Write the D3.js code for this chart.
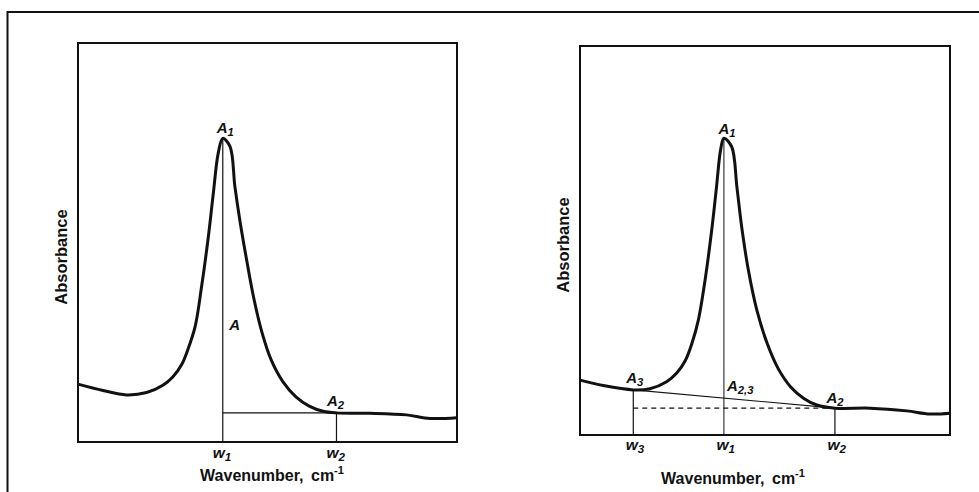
<!DOCTYPE html>
<html>
<head>
<meta charset="utf-8">
<script src="https://cdn.jsdelivr.net/npm/d3@7"></script>
<style>
  body { margin: 0; background: #fff; }
  svg text { font-family: "Liberation Sans", Arial, sans-serif; font-weight: bold; fill: #111; }
  .lab { font-style: italic; }
</style>
</head>
<body>
<div id="chart"></div>
<script>
// ------------------------------------------------------------
// Two schematic IR absorbance bands: single-point baseline (left)
// and two-point baseline (right).
// wavenumber in relative units 0-100, absorbance 0-1.
// ------------------------------------------------------------

// left panel spectrum
const leftWave = [0, 6.6, 12.8, 18.1, 22.5, 25.0, 27.4, 29.0, 30.9, 32.6, 34.4, 35.7, 37.0, 38.2,
  40.1, 41.4, 42.7, 44.5, 46.3, 48.5, 51.0, 54.0, 57.5, 61.0, 64.7, 68.2, 77.0, 86.7, 92.9, 100];
const leftAbs = [0.145, 0.129, 0.118, 0.124, 0.143, 0.163, 0.195, 0.232, 0.289, 0.389, 0.515, 0.623, 0.724, 0.761,
  0.741, 0.640, 0.556, 0.456, 0.364, 0.276, 0.205, 0.152, 0.113, 0.090, 0.077, 0.073, 0.072, 0.068, 0.059, 0.061];

// right panel spectrum
const rightWave = [0, 6.3, 14.4, 18.9, 23.4, 26.2, 28.5, 30.3, 32.0, 33.8, 35.6, 36.9, 38.0, 38.9,
  41.0, 42.4, 43.7, 45.5, 47.8, 50.6, 53.6, 57.0, 60.5, 64.0, 68.9, 78.4, 88.3, 94.6, 100];
const rightAbs = [0.141, 0.127, 0.116, 0.119, 0.137, 0.160, 0.192, 0.237, 0.296, 0.398, 0.527, 0.638, 0.733, 0.763,
  0.741, 0.638, 0.535, 0.424, 0.321, 0.235, 0.170, 0.123, 0.094, 0.077, 0.069, 0.069, 0.062, 0.054, 0.056];

// marked wavenumbers (w1, w2 / w3, w1, w2) and their subscripts
const leftTickPos = [38.2, 68.2];
const leftTickSub = ["1", "2"];
const rightTickPos = [14.4, 38.9, 68.9];
const rightTickSub = ["3", "1", "2"];

// absorbance readings at the marks
const leftPeak = 0.761, leftBase = 0.073;
const rightPeak = 0.763, rightA2 = 0.069, rightA3 = 0.116;

const W = 979, H = 492;
const svg = d3.select("#chart").append("svg")
  .attr("width", W).attr("height", H);

// outer frame (left + top only)
svg.append("path")
  .attr("d", `M7.5,${H} V12 H${W}`)
  .attr("fill", "none").attr("stroke", "#111").attr("stroke-width", 2);

// helper: italic label with a subscript
function subText(g, x, y, main, sub, size) {
  const t = g.append("text").attr("class", "lab")
    .attr("x", x).attr("y", y)
    .attr("font-size", size);
  t.append("tspan").text(main);
  t.append("tspan").attr("font-size", size * 0.75).attr("dy", 3).text(sub);
  return t;
}

function panel(box, waves, abs) {
  const x = d3.scaleLinear().domain([0, 100]).range([box.left, box.right]);
  const y = d3.scaleLinear().domain([0, 1]).range([box.bottom, box.top]);
  const g = svg.append("g");

  g.append("rect")
    .attr("x", x(0)).attr("y", y(1))
    .attr("width", x(100) - x(0)).attr("height", y(0) - y(1))
    .attr("fill", "none").attr("stroke", "#111").attr("stroke-width", 2);

  const pts = waves.map((w, i) => [w, abs[i]]);
  const line = d3.line()
    .x(d => x(d[0])).y(d => y(d[1]))
    .curve(d3.curveCatmullRom.alpha(0.5));

  // axis labels
  g.append("text")
    .attr("transform", `translate(${box.ylabX},${box.ylabY}) rotate(-90)`)
    .attr("text-anchor", "middle")
    .attr("font-size", 16.5)
    .text("Absorbance");

  const xl = g.append("text")
    .attr("x", box.xlabX).attr("y", box.xlabY)
    .attr("text-anchor", "middle")
    .attr("font-size", 16)
    .attr("word-spacing", 3);
  xl.append("tspan").text("Wavenumber, cm");
  xl.append("tspan").attr("font-size", 11).attr("dy", -7).text("-1");

  return { g, x, y, line, pts };
}

// ---------------- left panel ----------------
{
  const p = panel({ left: 78, right: 457, top: 43, bottom: 442,
    ylabX: 67, ylabY: 257, xlabX: 272, xlabY: 481 }, leftWave, leftAbs);
  const { g, x, y } = p;
  const w1 = leftTickPos[0], w2 = leftTickPos[1];

  // guide lines
  g.append("line").attr("x1", x(w1)).attr("x2", x(w1)).attr("y1", y(leftPeak)).attr("y2", y(0))
    .attr("stroke", "#111").attr("stroke-width", 1.2);
  g.append("line").attr("x1", x(w1)).attr("x2", x(w2)).attr("y1", y(leftBase)).attr("y2", y(leftBase))
    .attr("stroke", "#111").attr("stroke-width", 1.2);
  g.append("line").attr("x1", x(w2)).attr("x2", x(w2)).attr("y1", y(leftBase)).attr("y2", y(0))
    .attr("stroke", "#111").attr("stroke-width", 1.2);

  g.append("path").datum(p.pts).attr("d", p.line)
    .attr("fill", "none").attr("stroke", "#111").attr("stroke-width", 3)
    .attr("stroke-linejoin", "round");

  leftTickPos.forEach((w, i) => subText(g, x(w) - 10, y(0) + 15.5, "w", leftTickSub[i], 15.5));

  subText(g, x(w1) - 6, y(leftPeak) - 5, "A", "1", 15);
  g.append("text").attr("class", "lab").attr("font-size", 15)
    .attr("x", x(w1) + 6.5).attr("y", y(0.28)).text("A");
  subText(g, x(w2) - 9.5, y(leftBase) - 6.5, "A", "2", 15);
}

// ---------------- right panel ----------------
{
  const p = panel({ left: 580, right: 950, top: 46, bottom: 435,
    ylabX: 569, ylabY: 245, xlabX: 733, xlabY: 484 }, rightWave, rightAbs);
  const { g, x, y } = p;
  const w3 = rightTickPos[0], w1 = rightTickPos[1], w2 = rightTickPos[2];
  // baseline value under the peak, on the A3-A2 line
  const a23 = rightA3 + (rightA2 - rightA3) * (w1 - w3) / (w2 - w3);

  g.append("line").attr("x1", x(w1)).attr("x2", x(w1)).attr("y1", y(rightPeak)).attr("y2", y(0))
    .attr("stroke", "#111").attr("stroke-width", 1);
  g.append("line").attr("x1", x(w3)).attr("x2", x(w3)).attr("y1", y(rightA3)).attr("y2", y(0))
    .attr("stroke", "#111").attr("stroke-width", 1.2);
  g.append("line").attr("x1", x(w2)).attr("x2", x(w2)).attr("y1", y(rightA2)).attr("y2", y(0))
    .attr("stroke", "#111").attr("stroke-width", 1.2);
  g.append("line").attr("x1", x(w3)).attr("x2", x(w2)).attr("y1", y(rightA3)).attr("y2", y(rightA2))
    .attr("stroke", "#111").attr("stroke-width", 1.1);
  g.append("line").attr("x1", x(w3)).attr("x2", x(w2)).attr("y1", y(rightA2)).attr("y2", y(rightA2))
    .attr("stroke", "#111").attr("stroke-width", 1.1).attr("stroke-dasharray", "5,4");

  g.append("path").datum(p.pts).attr("d", p.line)
    .attr("fill", "none").attr("stroke", "#111").attr("stroke-width", 3)
    .attr("stroke-linejoin", "round");

  rightTickPos.forEach((w, i) => subText(g, x(w) - 7.5, y(0) + 14.5, "w", rightTickSub[i], 15.5));

  subText(g, x(w1) - 5.5, y(rightPeak) - 4.5, "A", "1", 15);
  subText(g, x(w3) - 7, y(rightA3) - 7, "A", "3", 15);
  subText(g, x(w1) + 3, y(a23) - 7, "A", "2,3", 15);
  subText(g, x(w2) - 8.5, y(rightA2) - 5, "A", "2", 15);
}
</script>
</body>
</html>
